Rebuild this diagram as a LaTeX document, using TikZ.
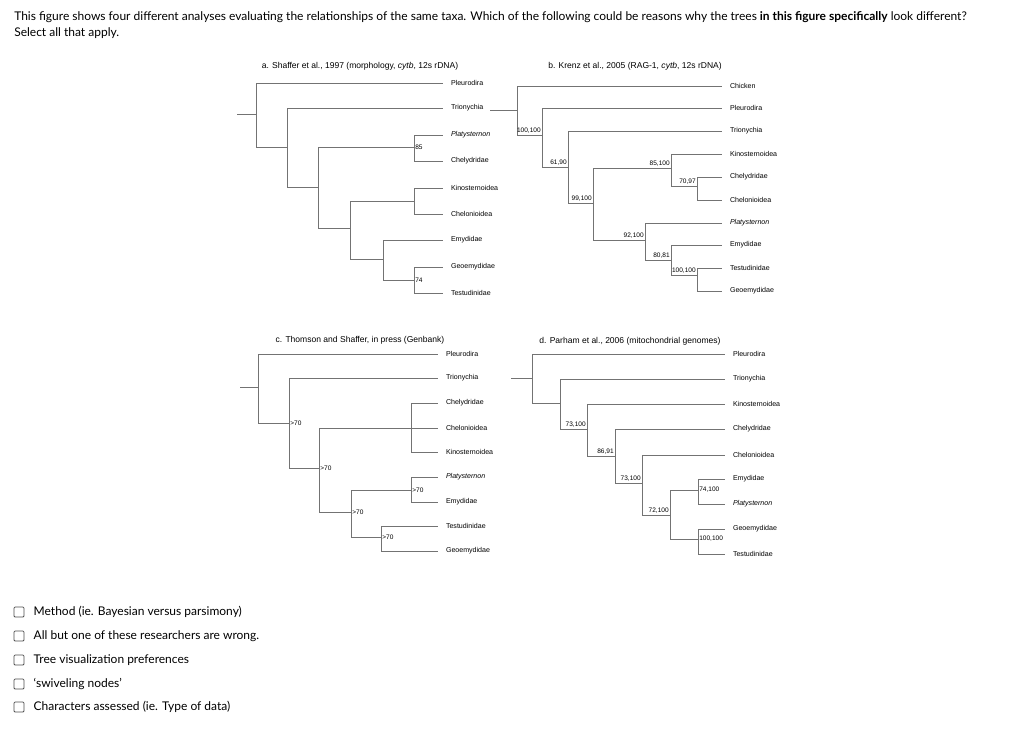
\documentclass[tikz,border=0pt]{standalone}
\usepackage{fontspec}
\setmainfont{Lato}
\newfontfamily\treefont{Liberation Sans}
\usetikzlibrary{positioning}

\begin{document}
\begin{tikzpicture}[x=0.75pt,y=-0.75pt,
    br/.style={draw=black!55,line width=0.5pt},
    leaf/.style={anchor=west,inner xsep=0pt,outer xsep=6pt,inner ysep=1pt,
      font=\treefont\fontsize{5.3}{6}\selectfont},
    ttl/.style={font=\treefont\fontsize{6.4}{7}\selectfont},
    sup/.style={inner sep=0.8pt,font=\treefont\fontsize{4.9}{5}\selectfont},
    box/.style={draw=black!70,line width=0.6pt,rounded corners=0.8pt,
      minimum size=7.5pt,inner sep=0pt},
    opt/.style={anchor=west,font=\fontsize{9}{10}\selectfont}]
    \path [use as bounding box] (0,0) rectangle (1024,733);

    % question
    \node[name=q1,anchor=west,inner sep=0pt,font=\fontsize{9}{10}\selectfont]
      at (14,17) {This figure shows four different analyses evaluating the relationships of the same taxa. Which of the following could be reasons why the trees \textbf{in this figure specifically} look different?};
    \node[name=q2,anchor=west,inner sep=0pt,font=\fontsize{9}{10}\selectfont]
      at (14,33) {Select all that apply.};

    % tree a
    \node[name=aT,ttl] at (360,66) {a. Shaffer et al., 1997 (morphology, \textit{cytb}, 12s rDNA)};
    \node[name=aPleu,leaf] at (443,83) {Pleurodira};
    \node[name=aTrio,leaf] at (443,108) {Trionychia};
    \node[name=aPlat,leaf] at (443,135) {\itshape Platysternon};
    \node[name=aChel,leaf] at (443,161) {Chelydridae};
    \node[name=aKino,leaf] at (443,188) {Kinosternoidea};
    \node[name=aCheo,leaf] at (443,214) {Chelonioidea};
    \node[name=aEmyd,leaf] at (443,240) {Emydidae};
    \node[name=aGeoe,leaf] at (443,267) {Geoemydidae};
    \node[name=aTest,leaf] at (443,293) {Testudinidae};
    \coordinate (aS) at (237,114);
    \coordinate (a0) at (256,114);
    \coordinate (a1) at (287,147);
    \coordinate (a2) at (318,187);
    \coordinate (a3) at (414,147);
    \coordinate (a4) at (350,228);
    \coordinate (a5) at (414,201);
    \coordinate (a6) at (383,259);
    \coordinate (a7) at (414,280);
    \path[br] (aS) -- (a0);
    \path[br] (a0) |- (aPleu.west) (a0) |- (a1);
    \path[br] (a1) |- (aTrio.west) (a1) |- (a2);
    \path[br] (a2) |- (a3) (a2) |- (a4);
    \path[br] (a3) |- (aPlat.west) (a3) |- (aChel.west);
    \path[br] (a4) |- (a5) (a4) |- (a6);
    \path[br] (a5) |- (aKino.west) (a5) |- (aCheo.west);
    \path[br] (a6) |- (aEmyd.west) (a6) |- (a7);
    \path[br] (a7) |- (aGeoe.west) (a7) |- (aTest.west);
    \node[sup,anchor=west] at (a3) {85};
    \node[sup,anchor=west] at (a7) {74};

    % tree b
    \node[name=bT,ttl] at (635,66) {b. Krenz et al., 2005 (RAG-1, \textit{cytb}, 12s rDNA)};
    \node[name=bChic,leaf] at (722,86) {Chicken};
    \node[name=bPleu,leaf] at (722,108) {Pleurodira};
    \node[name=bTrio,leaf] at (722,131) {Trionychia};
    \node[name=bKino,leaf] at (722,154) {Kinosternoidea};
    \node[name=bChel,leaf] at (722,177) {Chelydridae};
    \node[name=bCheo,leaf] at (722,200) {Chelonioidea};
    \node[name=bPlat,leaf] at (722,223) {\itshape Platysternon};
    \node[name=bEmyd,leaf] at (722,245) {Emydidae};
    \node[name=bTest,leaf] at (722,268) {Testudinidae};
    \node[name=bGeoe,leaf] at (722,291) {Geoemydidae};
    \coordinate (bS) at (490,110);
    \coordinate (b0) at (517,110);
    \coordinate (b1) at (542,135);
    \coordinate (b2) at (568,167);
    \coordinate (b3) at (593,203);
    \coordinate (b4) at (671,168);
    \coordinate (b5) at (645,240);
    \coordinate (b6) at (697,186);
    \coordinate (b7) at (671,260);
    \coordinate (b8) at (697,275);
    \path[br] (bS) -- (b0);
    \path[br] (b0) |- (bChic.west) (b0) |- (b1);
    \path[br] (b1) |- (bPleu.west) (b1) |- (b2);
    \path[br] (b2) |- (bTrio.west) (b2) |- (b3);
    \path[br] (b3) |- (b4) (b3) |- (b5);
    \path[br] (b4) |- (bKino.west) (b4) |- (b6);
    \path[br] (b6) |- (bChel.west) (b6) |- (bCheo.west);
    \path[br] (b5) |- (bPlat.west) (b5) |- (b7);
    \path[br] (b7) |- (bEmyd.west) (b7) |- (b8);
    \path[br] (b8) |- (bTest.west) (b8) |- (bGeoe.west);
    \node[sup,above left] at (b1) {100,100};
    \node[sup,above left] at (b2) {61,90};
    \node[sup,above left] at (b3) {99,100};
    \node[sup,above left] at (b4) {85,100};
    \node[sup,above left] at (b6) {70,97};
    \node[sup,above left] at (b5) {92,100};
    \node[sup,above left] at (b7) {80,81};
    \node[sup,above left] at (b8) {100,100};

    % tree c
    \node[name=cT,ttl] at (360,340) {c. Thomson and Shaffer, in press (Genbank)};
    \node[name=cPleu,leaf] at (438,354) {Pleurodira};
    \node[name=cTrio,leaf] at (438,378) {Trionychia};
    \node[name=cChel,leaf] at (438,403) {Chelydridae};
    \node[name=cCheo,leaf] at (438,428) {Chelonioidea};
    \node[name=cKino,leaf] at (438,452) {Kinosternoidea};
    \node[name=cPlat,leaf] at (438,477) {\itshape Platysternon};
    \node[name=cEmyd,leaf] at (438,502) {Emydidae};
    \node[name=cTest,leaf] at (438,526) {Testudinidae};
    \node[name=cGeoe,leaf] at (438,551) {Geoemydidae};
    \coordinate (cS) at (240,387);
    \coordinate (c0) at (258,387);
    \coordinate (c1) at (289,423);
    \coordinate (c2) at (319,468);
    \coordinate (c3) at (411,428);
    \coordinate (c4) at (351,512);
    \coordinate (c5) at (411,490);
    \coordinate (c6) at (381,537);
    \path[br] (cS) -- (c0);
    \path[br] (c0) |- (cPleu.west) (c0) |- (c1);
    \path[br] (c1) |- (cTrio.west) (c1) |- (c2);
    \path[br] (c2) |- (c3) (c2) |- (c4);
    \path[br] (c3) |- (cChel.west) (c3) -- (cCheo.west) (c3) |- (cKino.west);
    \path[br] (c4) |- (c5) (c4) |- (c6);
    \path[br] (c5) |- (cPlat.west) (c5) |- (cEmyd.west);
    \path[br] (c6) |- (cTest.west) (c6) |- (cGeoe.west);
    \foreach \n in {c1,c2,c4,c5,c6}
      \node[sup,anchor=west] at (\n) {>70};

    % tree d
    \node[name=dT,ttl] at (630,341) {d. Parham et al., 2006 (mitochondrial genomes)};
    \node[name=dPleu,leaf] at (725,354) {Pleurodira};
    \node[name=dTrio,leaf] at (725,379) {Trionychia};
    \node[name=dKino,leaf] at (725,404) {Kinosternoidea};
    \node[name=dChel,leaf] at (725,429) {Chelydridae};
    \node[name=dCheo,leaf] at (725,455) {Chelonioidea};
    \node[name=dEmyd,leaf] at (725,479) {Emydidae};
    \node[name=dPlat,leaf] at (725,504) {\itshape Platysternon};
    \node[name=dGeoe,leaf] at (725,529) {Geoemydidae};
    \node[name=dTest,leaf] at (725,554) {Testudinidae};
    \coordinate (dS) at (511,378);
    \coordinate (d0) at (532,378);
    \coordinate (d1) at (560,403);
    \coordinate (d2) at (587,429);
    \coordinate (d3) at (615,456);
    \coordinate (d4) at (642,483);
    \coordinate (d5) at (670,515);
    \coordinate (d6) at (698,490);
    \coordinate (d7) at (698,539);
    \path[br] (dS) -- (d0);
    \path[br] (d0) |- (dPleu.west) (d0) |- (d1);
    \path[br] (d1) |- (dTrio.west) (d1) |- (d2);
    \path[br] (d2) |- (dKino.west) (d2) |- (d3);
    \path[br] (d3) |- (dChel.west) (d3) |- (d4);
    \path[br] (d4) |- (dCheo.west) (d4) |- (d5);
    \path[br] (d5) |- (d6) (d5) |- (d7);
    \path[br] (d6) |- (dEmyd.west) (d6) |- (dPlat.west);
    \path[br] (d7) |- (dGeoe.west) (d7) |- (dTest.west);
    \node[sup,above left] at (d2) {73,100};
    \node[sup,above left] at (d3) {86,91};
    \node[sup,above left] at (d4) {73,100};
    \node[sup,above left] at (d5) {72,100};
    \node[sup,anchor=west] at (d6) {74,100};
    \node[sup,anchor=west] at (d7) {100,100};

    % answers
    \node[name=o1b,box] at (19,612) {};
    \node[name=o2b,box] at (19,636) {};
    \node[name=o3b,box] at (19,660) {};
    \node[name=o4b,box] at (19,684) {};
    \node[name=o5b,box] at (19,707) {};
    \node[name=o1,opt] at (29,612) {Method (ie. Bayesian versus parsimony)};
    \node[name=o2,opt] at (29,636) {All but one of these researchers are wrong.};
    \node[name=o3,opt] at (29,660) {Tree visualization preferences};
    \node[name=o4,opt] at (29,684) {`swiveling nodes'};
    \node[name=o5,opt] at (29,707) {Characters assessed (ie. Type of data)};
  \end{tikzpicture}
\end{document}
